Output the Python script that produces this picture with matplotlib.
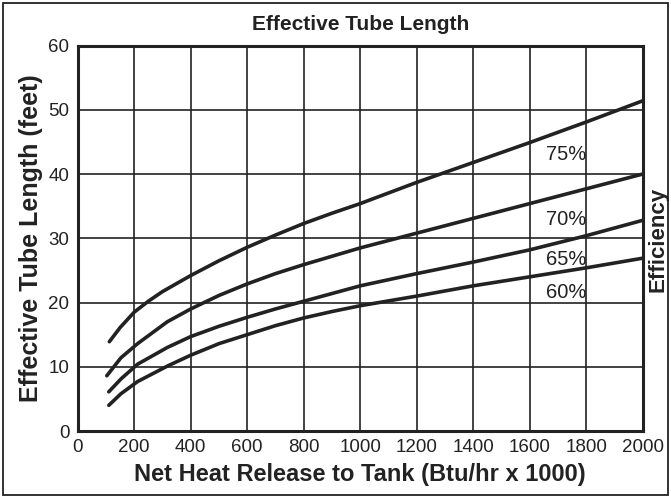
import numpy as np
import matplotlib
matplotlib.use('Agg')
import matplotlib.pyplot as plt
from matplotlib.patches import Rectangle

plt.rcParams['font.family'] = ['Liberation Sans', 'DejaVu Sans']

# curve readings (Btu/hr x 1000, feet)
x_75 = [112, 150, 200, 250, 300, 400, 500, 600, 700, 800, 900, 1000,
        1200, 1400, 1600, 1800, 2000]
y_75 = [13.9, 16.1, 18.5, 20.2, 21.7, 24.2, 26.5, 28.6, 30.5, 32.3, 33.9, 35.4,
        38.7, 41.8, 44.9, 48.1, 51.4]

x_70 = [103, 153, 212, 317, 400, 500, 600, 700, 800, 900, 1000,
        1200, 1400, 1600, 1800, 2000]
y_70 = [8.6, 11.4, 13.6, 17.0, 19.0, 21.1, 22.9, 24.5, 25.9, 27.2, 28.5,
        30.8, 33.1, 35.4, 37.7, 40.0]

x_65 = [110, 153, 212, 317, 400, 500, 600, 700, 800, 900, 1000,
        1200, 1400, 1600, 1800, 2000]
y_65 = [6.1, 8.1, 10.4, 13.0, 14.7, 16.3, 17.7, 19.0, 20.2, 21.4, 22.6,
        24.5, 26.3, 28.2, 30.4, 32.8]

x_60 = [110, 153, 212, 317, 400, 500, 600, 700, 800, 900, 1000,
        1200, 1400, 1600, 1800, 2000]
y_60 = [4.0, 5.8, 7.7, 10.1, 11.8, 13.6, 15.0, 16.4, 17.6, 18.6, 19.5,
        21.0, 22.6, 24.0, 25.4, 26.9]

curve_labels = ['75%', '70%', '65%', '60%']
label_y = [43.0, 32.9, 26.7, 21.5]

x_ticks = list(range(0, 2001, 200))
y_ticks = list(range(0, 61, 10))

ink = '#222222'

fig = plt.figure(figsize=(6.71, 4.98), dpi=100)
ax = fig.add_axes([0.1158, 0.1345, 0.8422, 0.7741])

for xs, ys in [(x_75, y_75), (x_70, y_70), (x_65, y_65), (x_60, y_60)]:
    ax.plot(xs, ys, color=ink, lw=2.6, solid_capstyle='round',
            solid_joinstyle='round', zorder=3)

for lab, ly in zip(curve_labels, label_y):
    ax.text(1730, ly, lab, ha='center', va='center', fontsize=14.5, color=ink)

ax.set_xlim(0, 2000)
ax.set_ylim(0, 60)
ax.set_xticks(x_ticks)
ax.set_yticks(y_ticks)
ax.tick_params(length=0, labelsize=13.5, colors=ink, pad=6)
ax.grid(True, color=ink, lw=1.2)
for s in ax.spines.values():
    s.set_linewidth(2.2)
    s.set_color(ink)

ax.set_xlabel('Net Heat Release to Tank (Btu/hr x 1000)', fontsize=17,
              fontweight='bold', color=ink, labelpad=5)
ax.set_ylabel('Effective Tube Length (feet)', fontsize=18,
              fontweight='bold', color=ink, labelpad=4)
ax.set_title('Effective Tube Length', fontsize=15, fontweight='bold',
             color=ink, pad=11)
fig.text(0.981, 0.52, 'Efficiency', rotation=90, ha='center', va='center',
         fontsize=16, fontweight='bold', color=ink)

fig.patches.append(Rectangle((0.004, 0.006), 0.992, 0.988, transform=fig.transFigure,
                             fill=False, lw=1.3, edgecolor=ink))

fig.savefig('out.png', dpi=100)
